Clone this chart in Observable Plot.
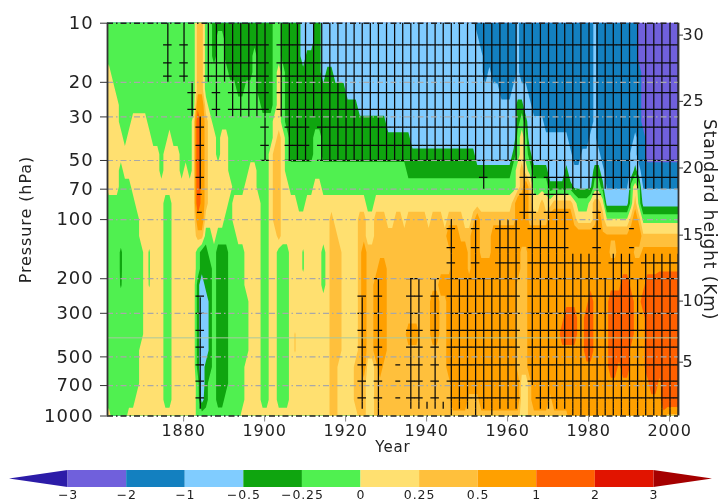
<!DOCTYPE html>
<html><head><meta charset="utf-8">
<style>
html,body{margin:0;padding:0;background:#fff;overflow:hidden}
svg{display:block;filter:blur(.4px)}
svg text{letter-spacing:.9px}
</style>
<script src="https://cdn.jsdelivr.net/npm/d3@7"></script>
<script src="https://cdn.jsdelivr.net/npm/@observablehq/plot@0.6"></script>
</head><body><div id="chart"></div><script>
// band representative anomalies
const P=-2.5,B=-1.5,L=-.75,D=-.37,G=-.12,Y=.12,O=.37,A=.75,R=1.5;
const thresholdValues=[-3,-2,-1,-.5,-.25,0,.25,.5,1,2,3];
const bandColors=["#2c1ca8","#7060dc","#1380c0","#80ccff","#0fa50f","#50f050","#ffe070","#ffc03c","#ffa000","#ff6000","#e11400","#a50000"];
const bandLabels=["\u22123","\u22122","\u22121","\u22120.5","\u22120.25","0","0.25","0.5","1","2","3"];
const pressureTicks=[10,20,30,50,70,100,200,300,500,700,1000];
const gridPressures=[20,30,50,70,100,200,300,500,700];
const yearTicks=[1880,1900,1920,1940,1960,1980,2000];
const heightKm=[30,25,20,15,10,5];
const heightP=[11.5,25,54.6,120,260,532];

// each level, top (10 hPa) to bottom (1000 hPa): start year, value, start year, value ...
const r00=[1861,G,1883,O,1885,G,1887,D,1902,G,1904,D,1909,L,1912,D,1914,L,1952,B,1962,L,1963,B,1981,L,1982,B,1992,P];
const r01=[1861,G,1883,O,1885,G,1887,D,1888,G,1890,D,1902,G,1904,D,1909,L,1912,D,1914,L,1953,B,1962,L,1963,B,1981,L,1982,B,1992,P];
const r02=[1861,G,1883,O,1885,G,1887,D,1888,G,1890,D,1897,G,1898,D,1902,G,1904,D,1909,L,1910,D,1914,L,1954,B,1962,L,1963,B,1981,L,1982,B,1992,P];
const r03=[1861,Y,1862,G,1883,O,1885,G,1891,D,1897,G,1898,D,1902,G,1903,Y,1904,G,1905,D,1914,L,1915,D,1917,L,1954,B,1955,L,1956,B,1962,L,1963,B,1981,L,1982,B,1993,P];
const r04=[1861,Y,1863,G,1883,O,1885,G,1893,D,1895,G,1898,D,1902,G,1903,Y,1904,G,1905,D,1920,L,1958,B,1961,L,1965,B,1981,L,1982,B,1993,P];
const r05=[1861,Y,1864,G,1883,A,1885,Y,1886,G,1899,D,1902,G,1903,Y,1904,G,1905,D,1923,L,1962,D,1964,L,1966,B,1981,L,1982,B,1993,P];
const r06=[1861,Y,1864,G,1867,Y,1871,G,1882,Y,1883,R,1884,A,1885,O,1886,Y,1887,G,1902,Y,1904,G,1905,D,1930,L,1962,D,1963,G,1964,D,1965,L,1969,B,1981,L,1982,B,1993,P];
const r07=[1861,Y,1865,G,1866,Y,1872,G,1876,Y,1877,G,1882,Y,1883,R,1884,A,1885,O,1886,Y,1888,G,1889,Y,1891,G,1902,Y,1903,O,1904,Y,1905,G,1906,D,1912,G,1914,D,1936,L,1962,G,1963,Y,1964,G,1965,L,1975,B,1980,L,1982,B,1991,L,1992,B,1994,P];
const r08=[1861,Y,1874,G,1875,Y,1879,G,1882,Y,1883,R,1884,A,1885,O,1886,Y,1888,G,1889,Y,1891,G,1901,Y,1902,O,1904,Y,1905,G,1906,D,1912,G,1914,D,1952,L,1961,D,1962,G,1963,Y,1964,G,1965,D,1966,L,1976,B,1978,L,1983,B,1990,L,1992,B,1994,P];
const r09=[1861,Y,1864,G,1865,Y,1874,G,1875,Y,1879,G,1880,Y,1881,G,1882,Y,1883,R,1884,A,1885,O,1886,Y,1891,G,1896,Y,1898,G,1901,Y,1902,O,1904,Y,1905,G,1935,D,1961,G,1962,Y,1963,O,1964,Y,1965,G,1966,D,1970,L,1974,D,1975,L,1981,D,1983,L,1984,B,1990,L,1991,D,1992,L,1993,B];
const r10=[1861,Y,1864,G,1867,Y,1882,Y,1883,R,1884,A,1885,O,1886,Y,1892,G,1895,Y,1898,G,1901,Y,1902,O,1904,Y,1906,G,1912,Y,1914,G,1962,Y,1963,O,1964,A,1965,O,1966,G,1970,D,1976,-.55,1981,G,1983,D,1984,-1.05,1990,G,1991,Y,1992,G,1993,-1.05];
const r11=[1861,G,1868,Y,1875,G,1877,Y,1883,R,1884,A,1885,O,1886,Y,1891,G,1892,Y,1899,G,1901,Y,1902,O,1904,Y,1908,G,1910,Y,1925,G,1927,Y,1961,O,1962,A,1965,O,1966,Y,1968,O,1969,Y,1971,O,1976,Y,1977,G,1980,Y,1981,O,1983,Y,1984,-.6,1990,G,1991,O,1992,G,1993,-.6];
const r12=[1861,G,1869,Y,1875,G,1877,Y,1883,A,1885,Y,1890,G,1892,Y,1899,G,1901,Y,1902,O,1904,Y,1916,O,1917,Y,1923,O,1925,Y,1927,O,1930,Y,1932,O,1934,Y,1935,O,1940,Y,1941,O,1944,Y,1945,O,1949,Y,1951,O,1952,A,1953,O,1962,A,1965,O,1970,A,1976,O,1977,Y,1981,O,1982,A,1983,O,1984,.03,1990,O,1991,A,1992,O,1993,-.08];
const r13=[1861,G,1869,Y,1875,G,1877,Y,1883,O,1885,G,1887,Y,1888,G,1893,Y,1899,G,1901,Y,1903,O,1904,Y,1916,O,1918,Y,1923,O,1925,Y,1927,O,1945,A,1948,O,1951,A,1953,O,1956,A,1983,.55,1990,A,1993,.3];
const r14=[1861,G,1864,-.3,1865,G,1870,Y,1871,-.03,1872,Y,1875,G,1877,Y,1883,G,1884,D,1886,G,1888,D,1891,G,1895,Y,1899,G,1901,Y,1903,G,1906,Y,1909,-.03,1910,Y,1914,G,1915,Y,1916,O,1919,Y,1923,O,1924,A,1925,O,1946,A,1950,O,1951,A,1953,O,1956,A,1963,O,1965,A,1985,O,1987,A,1991,O,1993,.6];
const r15=[1861,G,1864,-.3,1865,G,1870,Y,1871,-.03,1872,Y,1875,G,1877,Y,1883,G,1884,D,1887,G,1888,D,1891,G,1895,Y,1899,G,1901,Y,1903,G,1906,Y,1909,-.03,1910,Y,1914,G,1915,Y,1916,O,1919,Y,1923,O,1924,A,1925,O,1928,A,1930,O,1946,A,1950,O,1951,A,1963,O,1965,A,1997,.9];
const r16=[1861,G,1864,-.28,1865,G,1870,Y,1871,-.02,1872,Y,1875,G,1877,Y,1883,D,1884,L,1885,D,1887,G,1888,D,1891,G,1895,Y,1899,G,1901,Y,1903,G,1906,Y,1914,G,1915,Y,1916,O,1919,Y,1923,O,1924,A,1925,O,1927,A,1930,O,1943,A,1962,O,1965,A,1988,R,1990,A,1994,R];
const r17=[1861,G,1870,Y,1875,G,1877,Y,1883,D,1884,L,1886,D,1887,G,1888,D,1891,G,1896,Y,1899,G,1901,Y,1903,G,1906,Y,1916,O,1919,Y,1923,O,1924,A,1925,O,1927,A,1930,O,1941,A,1943,O,1945,A,1962,O,1965,A,1980,R,1981,A,1985,R,1991,A,1993,R];
const r18=[1861,G,1870,Y,1875,G,1877,Y,1883,D,1884,L,1886,D,1887,G,1888,D,1891,G,1896,Y,1899,G,1901,Y,1903,G,1906,Y,1916,O,1919,Y,1923,O,1924,A,1925,O,1927,A,1930,O,1941,A,1943,O,1945,A,1962,O,1965,A,1974,R,1977,A,1979,R,1981,A,1985,R,1991,A,1994,R];
const r19=[1861,G,1870,Y,1875,G,1877,Y,1883,D,1884,L,1886,D,1887,G,1888,D,1891,G,1896,Y,1899,G,1901,Y,1903,G,1906,Y,1907,.27,1908,Y,1916,O,1919,Y,1923,O,1924,A,1925,O,1927,A,1930,O,1935,A,1938,O,1941,A,1943,O,1945,A,1962,O,1965,A,1973,R,1977,A,1979,R,1981,A,1985,R,1991,A,1994,R];
const r20=[1861,G,1869,Y,1875,G,1877,Y,1883,D,1884,L,1886,D,1887,G,1888,D,1891,G,1896,Y,1899,G,1901,Y,1903,G,1906,Y,1907,.27,1908,Y,1916,O,1919,Y,1923,O,1924,A,1925,O,1927,A,1930,O,1945,A,1962,O,1965,A,1979,R,1981,A,1985,R,1990,A,1994,R];
const r21=[1861,G,1869,Y,1875,G,1877,Y,1883,D,1884,L,1885,D,1887,G,1888,D,1891,G,1895,Y,1899,G,1901,Y,1903,G,1906,Y,1916,O,1918,Y,1922,O,1924,A,1925,Y,1927,O,1928,A,1929,O,1945,A,1962,O,1965,A,1985,R,1987,A,1988,R,1990,A,1994,R];
const r22=[1861,G,1869,Y,1875,G,1877,Y,1883,G,1884,L,1885,D,1886,G,1888,D,1891,G,1895,Y,1899,G,1901,Y,1903,G,1906,Y,1916,O,1918,Y,1922,O,1925,Y,1927,O,1946,A,1963,Y,1965,O,1966,A,1995,R,1997,A,1998,R];
const r23=[1861,G,1868,Y,1875,G,1877,Y,1883,G,1884,-.6,1885,D,1886,G,1888,D,1890,G,1895,Y,1899,G,1901,Y,1903,G,1906,Y,1916,O,1918,Y,1922,O,1925,Y,1927,O,1946,A,1950,O,1953,A,1963,Y,1965,O,1966,A,1970,O,1971,A,1998,R];
const r24=[1861,Y,1862,G,1866,Y,1883,G,1894,Y,1916,O,1918,Y,1923,O,1925,Y,1927,O,1963,Y,1965,O,1975,A,1999,O];
const rows=[r00,r01,r02,r03,r04,r05,r06,r07,r08,r09,r10,r11,r12,r13,r14,r15,r16,r17,r18,r19,r20,r21,r22,r23,r24];

// significance hatching: pressure bands and the even-year columns (from,to) significant in each
const hatchEdges=[10,20,30,50,70,100,150,200,250,300,400,500,600,700,850,925,1000];
const hatchLevels=[[12.9,15.9,18.6],[22.6,27.5],[33.8,41.9,50],[61],[74.5,91.8],[111,139],[166],[200],[245,300],[366],[446],[549],[665],[809],[],[]];
const lowerCols=[[1884,1884],[1924,1924],[1928,1928],[1936,1938],[1942,1942],[1946,1962],[1966,2002]];
const sigCols=[
 [[1876,1876],[1880,1880],[1886,1900],[1904,2002]],
 [[1882,1882],[1888,1888],[1892,1900],[1904,2002]],
 [[1884,1884],[1900,1900],[1906,1910],[1914,2002]],
 [[1884,1884],[1954,1954],[1964,1966],[1970,2002]],
 [[1964,1966],[1970,1974],[1982,1982]],
 [[1946,1946],[1952,1952],[1958,1962],[1966,1974],[1982,1982]],
 [[1946,1946],[1952,1952],[1958,1962],[1966,1982],[1986,1990],[1994,2002]],
 [[1928,1928],[1936,1938],[1942,1942],[1946,1962],[1966,2002]],
 lowerCols,lowerCols,lowerCols,lowerCols,lowerCols,
 [[1884,1884],[1924,1924],[1928,1928],[1936,1938],[1942,1942],[1946,1962],[1968,2002]],
 [[1884,1884],[1924,1924],[1928,1928],[1936,1944],[1946,1962],[1968,2002]],
 [[1928,1928],[1946,1946],[1952,1952],[1956,1956],[1976,2002]]
];
const dashYears=[1884,1884,1990.7,1990.7,1933,1933,1933];
const dashLevels=[74.5,91.8,111,139,549,665,809];

// expand the level lists into a year-by-level table
const years=d3.range(1861,2003);
const table=rows.flatMap(r=>years.map(yr=>{let v=r[1];for(let i=0;i<r.length;i+=2)if(r[i]<=yr)v=r[i+1];return v;}));
const lg=Math.log10;

const vertSegs=[],horSegs=[];
sigCols.forEach((runs,b)=>runs.forEach(([a,z])=>{
  for(const yr of d3.range(a,z+1,2)){
    vertSegs.push({x:yr+.1,p1:lg(hatchEdges[b]),p2:lg(hatchEdges[b+1])});
    for(const p of hatchLevels[b])horSegs.push({x1:yr+.1-1.05,x2:yr+.1+1.05,p:lg(p)});
  }
}));
dashYears.forEach((yr,i)=>horSegs.push({x1:yr-.6,x2:yr+.6,p:lg(dashLevels[i])}));

const xMin=1861.2,xMax=2002.2;
const halfRow=.5/12;
const dashDot="6,3,1.5,3";
const main=Plot.plot({
  width:721,height:460,marginLeft:107,marginRight:43,marginTop:22.7,marginBottom:44.5,
  style:{fontFamily:"'DejaVu Sans',sans-serif",fontSize:"16px",color:"#222",background:"#fff"},
  x:{domain:[xMin,xMax]},
  y:{domain:[1,3],reverse:true},
  color:{type:"threshold",domain:thresholdValues,range:bandColors},
  marks:[
    Plot.contour(table,{width:years.length,height:rows.length,x1:1861,x2:2003,y1:1-halfRow,y2:3+halfRow,
      value:d=>d,thresholds:thresholdValues.slice(0,-1),fill:"value",clip:true}),
    Plot.ruleX(vertSegs,{x:"x",y1:"p1",y2:"p2",stroke:"#0a0a0a",strokeWidth:1.25,clip:true}),
    Plot.ruleY(horSegs,{y:"p",x1:"x1",x2:"x2",stroke:"#0a0a0a",strokeWidth:1.25,clip:true}),
    Plot.ruleY(gridPressures,{y:lg,stroke:"#a8a8a8",strokeWidth:1.2,strokeDasharray:dashDot}),
    Plot.ruleY([400],{y:lg,stroke:"#a8c8a0",strokeWidth:1}),
    Plot.ruleY([10,1000],{y:lg,stroke:"#222",strokeWidth:1.4,strokeDasharray:dashDot}),
    Plot.ruleX([xMin,xMax],{stroke:"#333",strokeWidth:1.8}),
    Plot.axisY({ticks:pressureTicks.map(lg),tickFormat:(d,i)=>String(pressureTicks[i]),anchor:"left",label:null,tickSize:7,tickPadding:7,fontSize:18,stroke:"#333"}),
    Plot.axisX({ticks:yearTicks,tickFormat:d=>String(d),anchor:"bottom",label:null,tickSize:6,tickPadding:3,fontSize:16,stroke:"#888"}),
    Plot.axisY({ticks:heightP.map(lg),tickFormat:(d,i)=>String(heightKm[i]),anchor:"right",label:null,tickSize:4,tickPadding:0,fontSize:16,stroke:"#333"}),
    Plot.text(["Pressure (hPa)"],{frameAnchor:"left",textAnchor:"middle",dx:-82,rotate:-90,fontSize:16,fill:"#222"}),
    Plot.text(["Standard height (Km)"],{frameAnchor:"right",textAnchor:"middle",dx:31,rotate:90,fontSize:17,fill:"#222"}),
    Plot.text(["Year"],{frameAnchor:"bottom",dy:36,fontSize:15,fill:"#222"})
  ]
});

const boxes=bandColors.slice(1,-1).map((c,i)=>({a:i+1,b:i+2,c}));
const legend=Plot.plot({
  width:721,height:40,marginLeft:9,marginRight:9,marginTop:10,marginBottom:13,
  style:{fontFamily:"'DejaVu Sans',sans-serif",fontSize:"13px",color:"#222",background:"#fff"},
  x:{domain:[0,12],axis:null},
  y:{domain:[0,1],axis:null},
  marks:[
    Plot.areaY([{x:0,l:.5,h:.5},{x:1,l:0,h:1}],{x:"x",y1:"l",y2:"h",fill:bandColors[0]}),
    Plot.areaY([{x:11,l:0,h:1},{x:12,l:.5,h:.5}],{x:"x",y1:"l",y2:"h",fill:bandColors[11]}),
    Plot.rect(boxes,{x1:"a",x2:"b",y1:0,y2:1,fill:"c"}),
    Plot.text(bandLabels,{x:(d,i)=>i+1,y:0,dy:7,fontSize:12.5,fill:"#222",lineAnchor:"middle"})
  ]
});
const root=document.getElementById("chart");
root.append(main,legend);
</script></body></html>
